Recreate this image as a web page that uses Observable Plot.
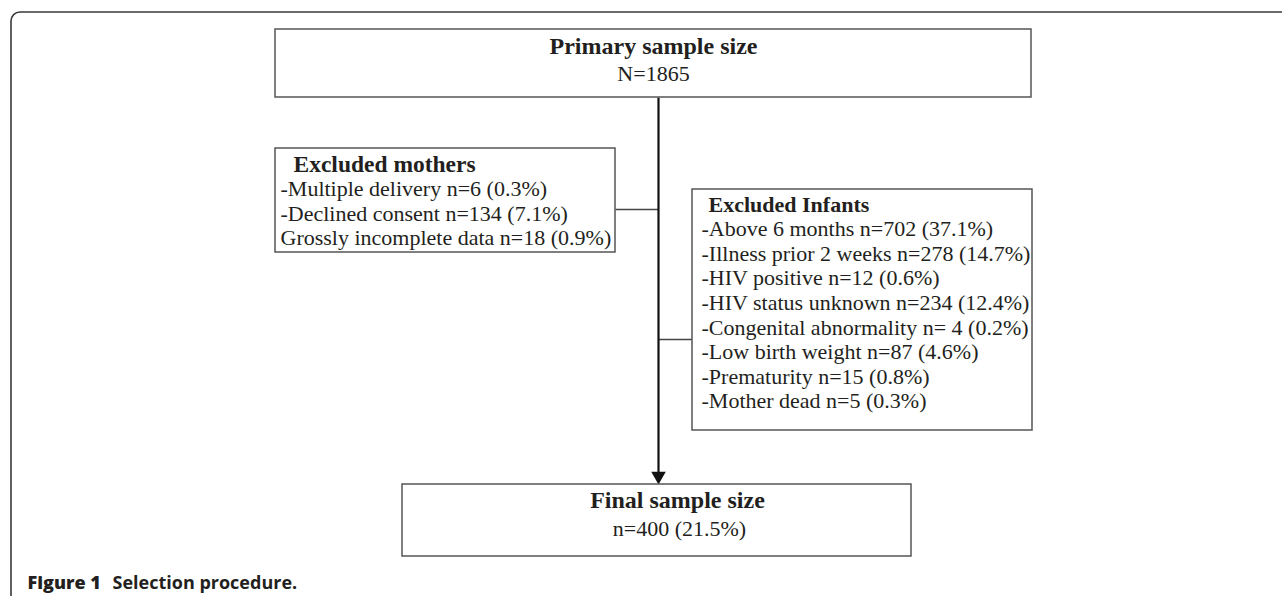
<!DOCTYPE html>
<html>
<head>
<meta charset="utf-8">
<script src="https://cdn.jsdelivr.net/npm/d3@7"></script>
<script src="https://cdn.jsdelivr.net/npm/@observablehq/plot@0.6"></script>
<style>
  html, body { margin: 0; padding: 0; background: #fff; overflow: hidden; }
  #chart svg { display: block; }
</style>
</head>
<body>
<div id="chart"></div>
<script>
// ---- Data ----
const primaryTitle = "Primary sample size";
const primaryN = 1865;

const motherTitle = "Excluded mothers";
const motherReasons = ["-Multiple delivery", "-Declined consent", "Grossly incomplete data"];
const motherCounts = [6, 134, 18];
const motherPcts = ["0.3%", "7.1%", "0.9%"];

const infantTitle = "Excluded Infants";
const infantReasons = ["-Above 6 months", "-Illness prior 2 weeks", "-HIV positive", "-HIV status unknown",
  "-Congenital abnormality", "-Low birth weight", "-Prematurity", "-Mother dead"];
const infantCounts = [702, 278, 12, 234, 4, 87, 15, 5];
const infantPcts = ["37.1%", "14.7%", "0.6%", "12.4%", "0.2%", "4.6%", "0.8%", "0.3%"];
const infantNPrefix = ["n=", "n=", "n=", "n=", "n= ", "n=", "n=", "n="];

const finalTitle = "Final sample size";
const finalN = 400;
const finalPct = "21.5%";

const captionBold = "Figure 1";
const captionText = "Selection procedure.";

// ---- Layout ----
const W = 1282, H = 596;
const serif = "Liberation Serif, Times New Roman, serif";
const ink = "#231f20";
const boxStroke = "#555";
const LH = 24.6;

const boxes = [
  {x1: 275, x2: 1031, y1: 29, y2: 97},
  {x1: 275, x2: 615, y1: 148, y2: 252},
  {x1: 692, x2: 1032, y1: 189, y2: 430},
  {x1: 402, x2: 911, y1: 484, y2: 556}
];

// bold titles
const titles = [
  {x: 653, y: 46, t: primaryTitle, s: 24, a: "middle"},
  {x: 293, y: 164, t: motherTitle, s: 23.5, a: "start"},
  {x: 708, y: 204, t: infantTitle, s: 22, a: "start"},
  {x: 677, y: 500, t: finalTitle, s: 24, a: "middle"}
];
// centred regular lines
const centred = [
  {x: 653, y: 73, t: `N=${primaryN}`},
  {x: 679, y: 528, t: `n=${finalN} (${finalPct})`}
];
// left-aligned regular lines
const listed = [];
motherReasons.forEach((r, i) => listed.push({
  x: 280, y: 164 + (i + 1) * LH, t: `${r} n=${motherCounts[i]} (${motherPcts[i]})`
}));
infantReasons.forEach((r, i) => listed.push({
  x: 701, y: 204 + (i + 1) * LH, t: `${r} ${infantNPrefix[i]}${infantCounts[i]} (${infantPcts[i]})`
}));

const connectors = [
  {x1: 615, x2: 658, y1: 209, y2: 209},
  {x1: 658, x2: 692, y1: 339, y2: 339}
];

const plot = Plot.plot({
  width: W, height: H,
  margin: 0,
  x: {domain: [0, W], range: [0, W], axis: null},
  y: {domain: [0, H], range: [0, H], axis: null},
  style: {background: "#fff"},
  marks: [
    // outer frame with rounded top-left corner
    Plot.rect([0], {x1: 11, x2: W + 40, y1: 12, y2: H + 40, rx: 9, fill: "none", stroke: "#3a3a3a", strokeWidth: 1.6, clip: true}),
    // connectors
    Plot.link(connectors, {x1: "x1", x2: "x2", y1: "y1", y2: "y2", stroke: "#444", strokeWidth: 1.3}),
    // main vertical arrow
    Plot.link([0], {x1: 658, x2: 658, y1: 97, y2: 474, stroke: "#111", strokeWidth: 2.2}),
    Plot.dot([0], {x: 658, y: 475.5, symbol: "triangle", r: 5.4, rotate: 180, fill: "#111", stroke: "none"}),
    // boxes
    Plot.rect(boxes, {x1: "x1", x2: "x2", y1: "y1", y2: "y2", fill: "#fff", stroke: boxStroke, strokeWidth: 1.5}),
    // texts
    Plot.text(titles.filter(d => d.a === "middle"), {x: "x", y: "y", text: "t", fontSize: "s", textAnchor: "middle",
      fontWeight: "bold", fontFamily: serif, fill: ink}),
    Plot.text(titles.filter(d => d.a === "start"), {x: "x", y: "y", text: "t", fontSize: "s", textAnchor: "start",
      fontWeight: "bold", fontFamily: serif, fill: ink}),
    Plot.text(centred, {x: "x", y: "y", text: "t", fontSize: 22, textAnchor: "middle", fontFamily: serif, fill: ink}),
    Plot.text(listed, {x: "x", y: "y", text: "t", fontSize: 22, textAnchor: "start", fontFamily: serif, fill: ink}),
    // caption
    Plot.text([captionBold], {x: 27, y: 583, text: d => d, textAnchor: "start", fontFamily: "Open Sans, sans-serif",
      fontWeight: 800, fontSize: 18, fill: ink}),
    Plot.text([captionText], {x: 112, y: 583, text: d => d, textAnchor: "start", fontFamily: "Open Sans, sans-serif",
      fontWeight: 700, fontSize: 18, fill: ink})
  ]
});
document.getElementById("chart").appendChild(plot);
</script>
</body>
</html>
